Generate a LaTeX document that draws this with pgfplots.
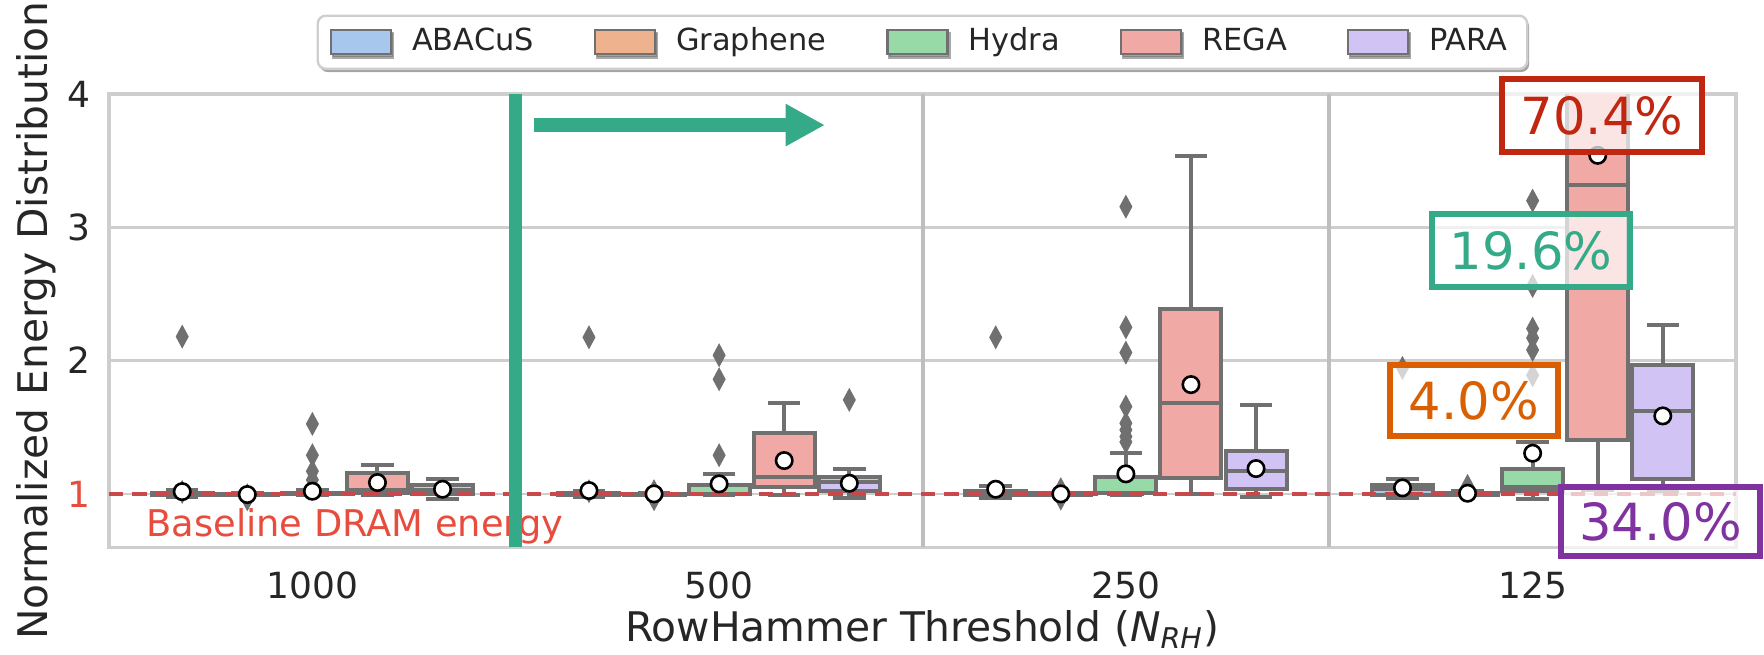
\documentclass[border=0pt]{standalone}
\usepackage{pgfplots}
\pgfplotsset{compat=1.18}
\usepgfplotslibrary{statistics}
\usetikzlibrary{arrows.meta,shadows}
\usepackage{fontspec}
\setmainfont{DejaVu Sans}

\definecolor{cA}{RGB}{167,200,236}
\definecolor{cG}{RGB}{238,179,142}
\definecolor{cH}{RGB}{152,218,167}
\definecolor{cR}{RGB}{240,169,165}
\definecolor{cP}{RGB}{209,195,243}
\definecolor{boxgray}{RGB}{112,112,112}
\definecolor{gridgray}{RGB}{206,206,206}
\definecolor{sepgray}{RGB}{190,190,190}
\definecolor{txt}{RGB}{38,38,38}
\definecolor{basered}{RGB}{200,72,76}
\definecolor{labred}{RGB}{232,76,61}
\definecolor{teal}{RGB}{53,170,136}
\definecolor{annred}{RGB}{192,38,16}
\definecolor{annorange}{RGB}{217,95,2}
\definecolor{annpurple}{RGB}{128,50,160}

% draw position, lower whisker, lower quartile, median, upper quartile, upper whisker, colour
\newcommand{\bx}[7]{%
  \addplot[forget plot, draw=boxgray, fill=#7, line width=1pt,
    boxplot/draw direction=y,
    boxplot prepared={draw position=#1, lower whisker=#2, lower quartile=#3,
      median=#4, upper quartile=#5, upper whisker=#6,
      box extend=0.15, whisker extend=0.08}] coordinates {};%
}

\begin{document}
\begin{tikzpicture}
\begin{axis}[
  at={(27.25pt,26.7pt)}, anchor=south west,
  scale only axis, width=406.75pt, height=113.3pt,
  xmin=-0.5, xmax=3.5, ymin=0.6, ymax=4.0,
  xtick={0,1,2,3}, xticklabels={1000,500,250,125},
  ytick={1,2,3,4}, yticklabels={\textcolor{labred}{1},2,3,4},
  extra x ticks={0.5,1.5,2.5}, extra x tick labels={},
  extra x tick style={grid=major, major grid style={draw=sepgray, line width=1pt}},
  major tick length=0pt,
  ymajorgrids, grid style={draw=gridgray, line width=0.65pt},
  axis line style={draw=gridgray, line width=0.8pt},
  tick label style={font=\fontsize{9}{10}\selectfont, text=txt},
  xticklabel style={anchor=base, yshift=-12.9pt},
  yticklabel style={anchor=east, inner sep=0pt, xshift=-4.4pt},
  every axis y label/.style={at={(axis description cs:-0.0375,0.5)}, rotate=90, anchor=base},
  every axis x label/.style={at={(axis description cs:0.5,-0.208)}, anchor=base},
  label style={font=\fontsize{10.2}{12}\selectfont, text=txt},
  ylabel={Normalized Energy Distribution},
  xlabel={RowHammer Threshold (\textit{N}\textsubscript{\textit{RH}})},
  legend columns=5,
  legend image code/.code={\draw[#1, sharp corners, line width=0.6pt] (0pt,-3pt) rectangle (15pt,3pt);},
  legend style={at={(0.5,1)}, anchor=south, yshift=6pt,
    fill=white, draw=gridgray, line width=0.6pt, rounded corners=2pt,
    drop shadow={shadow xshift=0.5pt, shadow yshift=-0.8pt, fill=black!60, opacity=0.6},
    font=\fontsize{7.6}{9}\selectfont, text=txt,
    inner xsep=3pt, inner ysep=1pt,
    /tikz/every odd column/.append style={column sep=3pt},
    /tikz/every even column/.append style={column sep=13pt}},
]
\addlegendimage{draw=boxgray, fill=cA}\addlegendentry{ABACuS}
\addlegendimage{draw=boxgray, fill=cG}\addlegendentry{Graphene}
\addlegendimage{draw=boxgray, fill=cH}\addlegendentry{Hydra}
\addlegendimage{draw=boxgray, fill=cR}\addlegendentry{REGA}
\addlegendimage{draw=boxgray, fill=cP}\addlegendentry{PARA}

% 1000
\bx{-0.32}{0.98}{0.995}{1.0}{1.01}{1.03}{cA}
\bx{-0.16}{0.99}{0.995}{1.0}{1.0}{1.005}{cG}
\bx{0.00}{0.99}{1.0}{1.0}{1.01}{1.03}{cH}
\bx{0.16}{0.99}{1.01}{1.03}{1.16}{1.215}{cR}
\bx{0.32}{0.965}{1.0}{1.03}{1.065}{1.11}{cP}
% 500
\bx{0.68}{0.98}{0.995}{1.0}{1.01}{1.02}{cA}
\bx{0.84}{0.99}{0.995}{1.0}{1.0}{1.005}{cG}
\bx{1.00}{0.99}{1.0}{1.0}{1.07}{1.15}{cH}
\bx{1.16}{0.99}{1.05}{1.125}{1.455}{1.68}{cR}
\bx{1.32}{0.97}{1.02}{1.09}{1.125}{1.185}{cP}
% 250
\bx{1.68}{0.97}{0.99}{1.01}{1.02}{1.06}{cA}
\bx{1.84}{0.99}{0.995}{1.0}{1.005}{1.01}{cG}
\bx{2.00}{0.99}{1.005}{1.01}{1.13}{1.31}{cH}
\bx{2.16}{1.0}{1.12}{1.685}{2.39}{3.535}{cR}
\bx{2.32}{0.98}{1.035}{1.17}{1.32}{1.67}{cP}
% 125
\bx{2.68}{0.97}{0.995}{1.04}{1.07}{1.11}{cA}
\bx{2.84}{0.99}{0.995}{1.0}{1.01}{1.02}{cG}
\bx{3.00}{0.96}{1.02}{1.05}{1.19}{1.39}{cH}
\bx{3.16}{1.03}{1.405}{3.32}{4.4}{5.5}{cR}
\bx{3.32}{1.02}{1.11}{1.62}{1.97}{2.27}{cP}

% outliers
\addplot[forget plot, only marks, mark=diamond*, mark size=2.8pt,
  mark options={xscale=0.72, fill=boxgray, draw=boxgray, line width=0.2pt}] coordinates {
  (-0.32,2.18) (-0.32,1.015) (-0.16,0.96) (-0.16,0.99)
  (0,1.525) (0,1.29) (0,1.17) (0,1.105)
  (0.68,2.175) (0.68,1.02) (0.84,0.96) (0.84,1.02)
  (1,2.04) (1,1.86) (1,1.29)
  (1.32,1.705)
  (1.68,2.175) (1.84,0.965) (1.84,1.035)
  (2,3.155) (2,2.25) (2,2.06) (2,1.655) (2,1.53) (2,1.48) (2,1.43) (2,1.39)
  (2.68,1.945) (2.84,1.06)
  (3,3.2) (3,2.56) (3,2.24) (3,2.17) (3,2.08) (3,1.89)
};

% baseline
\draw[basered, line width=0.9pt, dash pattern=on 3.6pt off 2.2pt] (axis cs:-0.5,1) -- (axis cs:3.5,1);
\node[anchor=base west, inner sep=0pt, text=labred, font=\fontsize{9.2}{11}\selectfont]
  at (axis cs:-0.41,0.68) {Baseline DRAM energy};

% means
\addplot[forget plot, only marks, mark=*, mark size=2.05pt,
  mark options={fill=white, draw=black, line width=0.65pt}] coordinates {
  (-0.32,1.017) (-0.16,0.995) (0,1.02) (0.16,1.085) (0.32,1.035)
  (0.68,1.025) (0.84,1.0) (1,1.075) (1.16,1.25) (1.32,1.08)
  (1.68,1.035) (1.84,1.0) (2,1.15) (2.16,1.82) (2.32,1.19)
  (2.68,1.045) (2.84,1.005) (3,1.305) (3.16,3.54) (3.32,1.585)
};

% green marker line and arrow
\draw[teal, line width=3.3pt] (axis cs:0.5,0.6) -- (axis cs:0.5,4.0);
\draw[teal, line width=3.3pt, -{Triangle[length=9.8pt,width=9.9pt]}]
  (axis cs:0.545,3.767) -- (axis cs:1.26,3.767);
\end{axis}

\begin{scope}[x=0.25pt,y=0.25pt]
\draw[annred, line width=1.5pt, fill=white, fill opacity=0.7] (1502,502) rectangle (1702,574.5);
\node[text=annred, font=\fontsize{12.8}{14}\selectfont] at (1602,538.25) {70.4\%};
\draw[teal, line width=1.5pt, fill=white, fill opacity=0.7] (1432,367) rectangle (1630,439.5);
\node[text=teal, font=\fontsize{12.8}{14}\selectfont] at (1531,403.25) {19.6\%};
\draw[annorange, line width=1.5pt, fill=white, fill opacity=0.7] (1390,218) rectangle (1558,289);
\node[text=annorange, font=\fontsize{12.8}{14}\selectfont] at (1474,253.5) {4.0\%};
\draw[annpurple, line width=1.5pt, fill=white, fill opacity=0.7] (1561,98) rectangle (1760,167);
\node[text=annpurple, font=\fontsize{12.8}{14}\selectfont] at (1660.5,132.5) {34.0\%};
\end{scope}

\pgfresetboundingbox
\path[use as bounding box] (0,0) rectangle (441pt,163.5pt);
\end{tikzpicture}
\end{document}
